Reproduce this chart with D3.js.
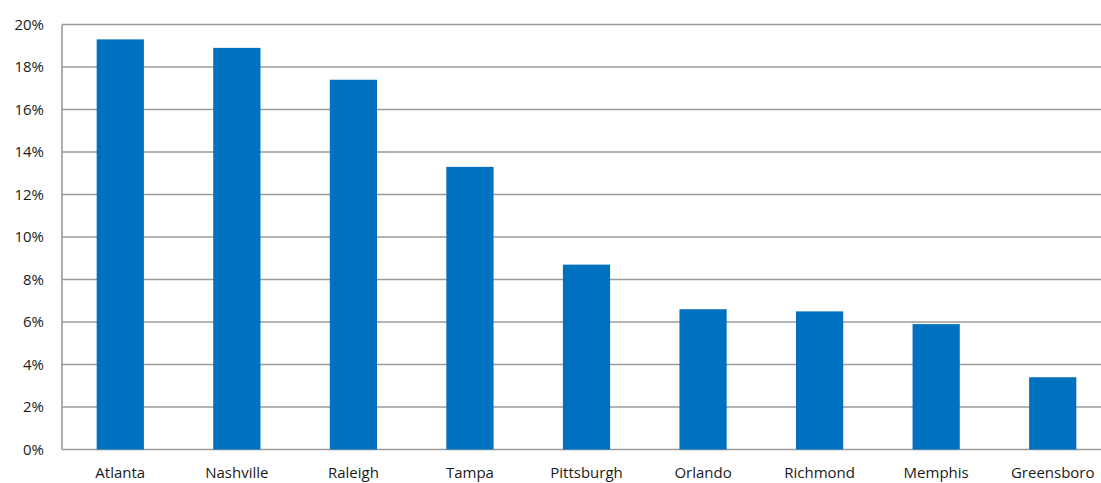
<!DOCTYPE html>
<html>
<head>
<meta charset="utf-8">
<script src="https://cdn.jsdelivr.net/npm/d3@7"></script>
<style>
  html, body { margin: 0; padding: 0; background: #fff; }
  svg { display: block; }
  text { font-family: "Open Sans", "Liberation Sans", sans-serif; fill: #1a1a1a; }
</style>
</head>
<body>
<svg id="chart" width="1101" height="483"></svg>
<script>
// Share by metro area (percent)
const cities = ["Atlanta", "Nashville", "Raleigh", "Tampa", "Pittsburgh", "Orlando", "Richmond", "Memphis", "Greensboro"];
const shares = [19.3, 18.9, 17.4, 13.3, 8.7, 6.6, 6.5, 5.9, 3.4];
const yTicks = [0, 2, 4, 6, 8, 10, 12, 14, 16, 18, 20];

const W = 1101;
const plotLeft = 62, plotTop = 24.5, plotBottom = 449.5, plotRight = 1111;

const svg = d3.select("#chart");

const x = d3.scaleBand().domain(cities).range([plotLeft, plotRight]).paddingInner(0.595).paddingOuter(0.2975);
const y = d3.scaleLinear().domain([0, 20]).range([plotBottom, plotTop]);

// horizontal gridlines
svg.append("g")
  .selectAll("line")
  .data(yTicks)
  .join("line")
  .attr("x1", plotLeft).attr("x2", W)
  .attr("y1", d => y(d)).attr("y2", d => y(d))
  .attr("stroke", "#9a9a9a")
  .attr("stroke-width", 1.6);

// bars
svg.append("g")
  .selectAll("rect")
  .data(cities.map((c, i) => ({ c, v: shares[i] })))
  .join("rect")
  .attr("x", d => x(d.c))
  .attr("width", x.bandwidth())
  .attr("y", d => y(d.v))
  .attr("height", d => y(0) - y(d.v))
  .attr("fill", "#0070C0");

// y axis line
svg.append("line")
  .attr("x1", plotLeft).attr("x2", plotLeft)
  .attr("y1", plotTop).attr("y2", plotBottom)
  .attr("stroke", "#9a9a9a").attr("stroke-width", 1.6);

// y tick labels
const yAxis = d3.axisLeft(y).tickValues(yTicks).tickFormat(d => d + "%").tickSize(0).tickPadding(18);
const gy = svg.append("g").attr("transform", `translate(${plotLeft},0)`).call(yAxis);
gy.select(".domain").remove();
gy.selectAll("text").style("font-size", "15px").attr("fill", "#1a1a1a").style("font-family", "\"Open Sans\", sans-serif");

// category labels
const xAxis = d3.axisBottom(x).tickSize(0).tickPadding(18);
const gx = svg.append("g").attr("transform", `translate(0,${plotBottom})`).call(xAxis);
gx.select(".domain").remove();
gx.selectAll("text").style("font-size", "15px").attr("fill", "#1a1a1a").style("font-family", "\"Open Sans\", sans-serif");
</script>
</body>
</html>
